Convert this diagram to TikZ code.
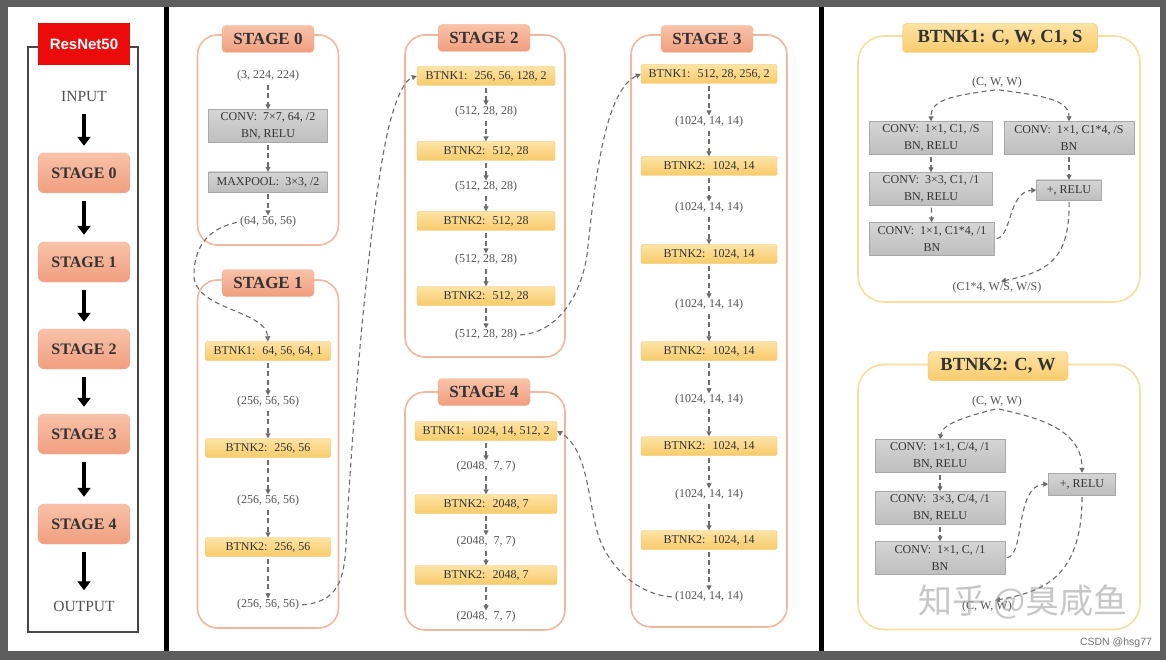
\documentclass[tikz,border=0pt]{standalone}
\usepackage{fontspec}
\setmainfont{Liberation Serif}
\newfontfamily\titlesans{Liberation Sans}
\newfontfamily\cjkmark{Noto Sans CJK SC}
\usetikzlibrary{arrows.meta,calc,positioning,shapes.geometric}
\definecolor{Screen}{HTML}{5E5E5E}
\definecolor{Ink}{HTML}{333333}
\definecolor{Soft}{HTML}{555555}
\definecolor{Dash}{HTML}{6C6C6C}
\definecolor{Salmon}{HTML}{F09E7E}
\definecolor{SalmonTop}{HTML}{F8C2A9}
\definecolor{SalmonLine}{HTML}{F1B79E}
\definecolor{Gold}{HTML}{F8CB6C}
\definecolor{GoldTop}{HTML}{FDE3A4}
\definecolor{GoldEdge}{HTML}{F1C46E}
\definecolor{GoldLine}{HTML}{F7DE9F}
\definecolor{Grey}{HTML}{BEBEBE}
\definecolor{GreyTop}{HTML}{D5D5D5}
\definecolor{GreyEdge}{HTML}{A9A9A9}
\definecolor{Red}{HTML}{EC0B0B}

\begin{document}
\begin{tikzpicture}[x=1pt,y=-1pt,
    txt/.style={font=\fontsize{12}{14}\selectfont,text=Soft,inner sep=1pt},
    bigtxt/.style={font=\fontsize{15.5}{16}\selectfont,text=Ink!85},
    ybox/.style={draw=GoldEdge,top color=GoldTop,bottom color=Gold,rounded corners=2pt,
      minimum height=19pt,inner sep=1pt,font=\fontsize{12}{14}\selectfont,text=Ink},
    gbox/.style={draw=GreyEdge,top color=GreyTop,bottom color=Grey,minimum height=33pt,
      inner sep=1pt,align=center,font=\fontsize{12}{16.5}\selectfont,text=Ink},
    leftstage/.style={top color=SalmonTop,bottom color=Salmon,draw=SalmonLine,rounded corners=6pt,
      minimum width=92pt,minimum height=40pt,font=\bfseries\fontsize{16}{16}\selectfont,text=Ink},
    stagetab/.style={top color=SalmonTop,bottom color=Salmon,draw=SalmonLine,rounded corners=4pt,
      minimum width=92pt,minimum height=27pt,font=\bfseries\fontsize{17}{17}\selectfont,text=Ink},
    stageframe/.style={draw=SalmonLine,line width=1.6pt,rounded corners=20pt,fill=white},
    btnkframe/.style={draw=GoldLine,line width=1.6pt,rounded corners=26pt,fill=white},
    btnktab/.style={top color=GoldTop,bottom color=Gold,draw=GoldEdge,rounded corners=4pt,
      minimum height=29pt,font=\bfseries\fontsize{18.5}{18.5}\selectfont,text=Ink},
    flow/.style={draw=Dash,line width=1.1pt,dash pattern=on 5pt off 3.5pt,shorten <=2pt,
      -{Triangle[length=5pt,width=5pt]}},
    bigarrow/.style={line width=4.5pt,shorten <=8pt,shorten >=7pt,-{Triangle[length=9pt,width=13pt]}},
    watermark/.style={font=\cjkmark\fontsize{34}{34}\selectfont,text=black!40,text opacity=0.55},
    credit/.style={font=\titlesans\fontsize{10.5}{11}\selectfont,text=black!55}]
  \useasboundingbox (0,0) rectangle (1166,660);
  % screen and panels
  \fill[Screen] (0,0) rectangle (1166,660);
  \fill[white] (8,7) rectangle (1160,651);
  \fill[black] (164,7) rectangle (169,651);
  \fill[black] (819,7) rectangle (824,651);

  % overview column
  \draw[line width=1.8pt,draw=Ink!90] (28,47) rectangle (138,632);
  \node[fill=Red,minimum width=92pt,minimum height=42pt,text=white,
    font=\titlesans\bfseries\fontsize{15}{15}\selectfont] (title) at (84,44) {ResNet50};
  \node[bigtxt] (input) at (84,97) {INPUT};
  \node[leftstage] (l0) at (84,173) {STAGE 0};
  \node[leftstage] (l1) at (84,262) {STAGE 1};
  \node[leftstage] (l2) at (84,349) {STAGE 2};
  \node[leftstage] (l3) at (84,434) {STAGE 3};
  \node[leftstage] (l4) at (84,524) {STAGE 4};
  \node[bigtxt] (output) at (84,606) {OUTPUT};
  \draw[bigarrow] (input) -- (l0);
  \draw[bigarrow] (l0) -- (l1);
  \draw[bigarrow] (l1) -- (l2);
  \draw[bigarrow] (l2) -- (l3);
  \draw[bigarrow] (l3) -- (l4);
  \draw[bigarrow] (l4) -- (output);

  % stage 0
  \node[stageframe,minimum width=141pt,minimum height=210pt] (f0) at (268,140) {};
  \node[stagetab] (h0) at (268,39) {STAGE 0};
  \node[txt] (s0t0) at (268,76) {(3, 224, 224)};
  \node[gbox,minimum width=119pt] (s0c) at (268,126) {CONV:~ 7×7, 64, /2\\BN, RELU};
  \node[gbox,minimum width=119pt,minimum height=20pt] (s0p) at (268,182) {MAXPOOL:~ 3×3, /2};
  \node[txt] (s0t1) at (268,222) {(64, 56, 56)};
  \draw[flow] (s0t0) -- (s0c);
  \draw[flow] (s0c) -- (s0p);
  \draw[flow] (s0p) -- (s0t1);

  % stage 1
  \node[stageframe,minimum width=141pt,minimum height=348pt] (f1) at (268,454) {};
  \node[stagetab] (h1) at (268,283) {STAGE 1};
  \node[ybox,minimum width=125pt] (s1b0) at (268,351) {BTNK1:~ 64, 56, 64, 1};
  \node[txt] (s1t0) at (268,402) {(256, 56, 56)};
  \node[ybox,minimum width=125pt] (s1b1) at (268,448) {BTNK2:~ 256, 56};
  \node[txt] (s1t1) at (268,501) {(256, 56, 56)};
  \node[ybox,minimum width=125pt] (s1b2) at (268,547) {BTNK2:~ 256, 56};
  \node[txt] (s1t2) at (268,605) {(256, 56, 56)};
  \draw[flow] (s1b0) -- (s1t0);
  \draw[flow] (s1t0) -- (s1b1);
  \draw[flow] (s1b1) -- (s1t1);
  \draw[flow] (s1t1) -- (s1b2);
  \draw[flow] (s1b2) -- (s1t2);

  % stage 2
  \node[stageframe,minimum width=160pt,minimum height=322pt] (f2) at (485,196) {};
  \node[stagetab] (h2) at (484,38) {STAGE 2};
  \node[ybox,minimum width=138pt] (s2b0) at (486,76) {BTNK1:~ 256, 56, 128, 2};
  \node[txt] (s2t0) at (486,112) {(512, 28, 28)};
  \node[ybox,minimum width=138pt] (s2b1) at (486,151) {BTNK2:~ 512, 28};
  \node[txt] (s2t1) at (486,187) {(512, 28, 28)};
  \node[ybox,minimum width=138pt] (s2b2) at (486,221) {BTNK2:~ 512, 28};
  \node[txt] (s2t2) at (486,260) {(512, 28, 28)};
  \node[ybox,minimum width=138pt] (s2b3) at (486,296) {BTNK2:~ 512, 28};
  \node[txt] (s2t3) at (486,335) {(512, 28, 28)};
  \draw[flow] (s2b0) -- (s2t0);
  \draw[flow] (s2t0) -- (s2b1);
  \draw[flow] (s2b1) -- (s2t1);
  \draw[flow] (s2t1) -- (s2b2);
  \draw[flow] (s2b2) -- (s2t2);
  \draw[flow] (s2t2) -- (s2b3);
  \draw[flow] (s2b3) -- (s2t3);

  % stage 4
  \node[stageframe,minimum width=160pt,minimum height=238pt] (f4) at (485,511) {};
  \node[stagetab] (h4) at (484,392) {STAGE 4};
  \node[ybox,minimum width=142pt] (s4b0) at (486,431) {BTNK1:~ 1024, 14, 512, 2};
  \node[txt] (s4t0) at (486,467) {(2048,~ 7, 7)};
  \node[ybox,minimum width=142pt] (s4b1) at (486,504) {BTNK2:~ 2048, 7};
  \node[txt] (s4t1) at (486,542) {(2048,~ 7, 7)};
  \node[ybox,minimum width=142pt] (s4b2) at (486,575) {BTNK2:~ 2048, 7};
  \node[txt] (s4t2) at (486,617) {(2048,~ 7, 7)};
  \draw[flow] (s4b0) -- (s4t0);
  \draw[flow] (s4t0) -- (s4b1);
  \draw[flow] (s4b1) -- (s4t1);
  \draw[flow] (s4t1) -- (s4b2);
  \draw[flow] (s4b2) -- (s4t2);

  % stage 3
  \node[stageframe,minimum width=156pt,minimum height=592pt] (f3) at (709,331) {};
  \node[stagetab] (h3) at (707,39) {STAGE 3};
  \node[ybox,minimum width=136pt] (s3b0) at (709,74) {BTNK1:~ 512, 28, 256, 2};
  \node[txt] (s3t0) at (709,122) {(1024, 14, 14)};
  \node[ybox,minimum width=136pt] (s3b1) at (709,166) {BTNK2:~ 1024, 14};
  \node[txt] (s3t1) at (709,208) {(1024, 14, 14)};
  \node[ybox,minimum width=136pt] (s3b2) at (709,254) {BTNK2:~ 1024, 14};
  \node[txt] (s3t2) at (709,305) {(1024, 14, 14)};
  \node[ybox,minimum width=136pt] (s3b3) at (709,351) {BTNK2:~ 1024, 14};
  \node[txt] (s3t3) at (709,400) {(1024, 14, 14)};
  \node[ybox,minimum width=136pt] (s3b4) at (709,446) {BTNK2:~ 1024, 14};
  \node[txt] (s3t4) at (709,495) {(1024, 14, 14)};
  \node[ybox,minimum width=136pt] (s3b5) at (709,540) {BTNK2:~ 1024, 14};
  \node[txt] (s3t5) at (709,597) {(1024, 14, 14)};
  \draw[flow] (s3b0) -- (s3t0);
  \draw[flow] (s3t0) -- (s3b1);
  \draw[flow] (s3b1) -- (s3t1);
  \draw[flow] (s3t1) -- (s3b2);
  \draw[flow] (s3b2) -- (s3t2);
  \draw[flow] (s3t2) -- (s3b3);
  \draw[flow] (s3b3) -- (s3t3);
  \draw[flow] (s3t3) -- (s3b4);
  \draw[flow] (s3b4) -- (s3t4);
  \draw[flow] (s3t4) -- (s3b5);
  \draw[flow] (s3b5) -- (s3t5);

  % links between stages
  \draw[flow] (s0t1.west) .. controls (210,228) and (194,245) .. (194,275)
    .. controls (194,310) and (266,310) .. (s1b0.north);
  \draw[flow] (s1t2.east) .. controls (338,602) and (344,580) .. (346,545)
    .. controls (352,420) and (372,180) .. (392,115)
    .. controls (398,95) and (405,80) .. (s2b0.west);
  \draw[flow] (s2t3.east) .. controls (555,333) and (580,300) .. (587,255)
    .. controls (595,180) and (605,90) .. (s3b0.west);
  \draw[flow] (s3t5.west) .. controls (640,595) and (612,570) .. (600,540)
    .. controls (588,510) and (590,450) .. (s4b0.east);

  % BTNK1 block
  \node[btnkframe,minimum width=282pt,minimum height=266pt] (k1f) at (999,169) {};
  \node[btnktab,minimum width=195pt] (k1) at (1000,38) {BTNK1: C, W, C1, S};
  \node[txt] (cin1) at (997,83) {(C, W, W)};
  \node[gbox,minimum width=123pt] (b1c1) at (931,138) {CONV:~ 1×1, C1, /S\\BN, RELU};
  \node[gbox,minimum width=123pt] (b1c2) at (931,189) {CONV:~ 3×3, C1, /1\\BN, RELU};
  \node[gbox,minimum width=125pt] (b1c3) at (932,239) {CONV:~ 1×1, C1*4, /1\\BN};
  \node[gbox,minimum width=130pt] (b1r) at (1069,138) {CONV:~ 1×1, C1*4, /S\\BN};
  \node[gbox,minimum width=65pt,minimum height=20pt] (add1) at (1069,190) {+, RELU};
  \node[txt] (cout1) at (997,288) {(C1*4, W/S, W/S)};
  \draw[flow] (cin1.south) .. controls (950,96) and (931,100) .. (b1c1.north);
  \draw[flow] (cin1.south) .. controls (1045,96) and (1069,100) .. (b1r.north);
  \draw[flow] (b1c1) -- (b1c2);
  \draw[flow] (b1c2) -- (b1c3);
  \draw[flow] (b1r) -- (add1);
  \draw[flow] (b1c3.east) .. controls (1012,236) and (1008,192) .. (add1.west);
  \draw[flow] (add1.south) .. controls (1070,262) and (1045,272) .. ([xshift=4pt]cout1.north);

  % BTNK2 block
  \node[btnkframe,minimum width=282pt,minimum height=265pt] (k2f) at (999,497) {};
  \node[btnktab,minimum width=140pt] (k2) at (998,366) {BTNK2: C, W};
  \node[txt] (cin2) at (997,402) {(C, W, W)};
  \node[gbox,minimum width=130pt] (b2c1) at (940,456) {CONV:~ 1×1, C/4, /1\\BN, RELU};
  \node[gbox,minimum width=130pt] (b2c2) at (940,508) {CONV:~ 3×3, C/4, /1\\BN, RELU};
  \node[gbox,minimum width=130pt] (b2c3) at (940,558) {CONV:~ 1×1, C, /1\\BN};
  \node[gbox,minimum width=67pt,minimum height=22pt] (add2) at (1082,484) {+, RELU};
  \node[txt] (cout2) at (987,607) {(C, W, W)};
  \draw[flow] (cin2.south) .. controls (960,418) and (942,425) .. (b2c1.north);
  \draw[flow] (cin2.south) .. controls (1040,418) and (1082,430) .. (add2.north);
  \draw[flow] (b2c1) -- (b2c2);
  \draw[flow] (b2c2) -- (b2c3);
  \draw[flow] (b2c3.east) .. controls (1025,555) and (1015,486) .. (add2.west);
  \draw[flow] (add2.south) .. controls (1082,580) and (1040,592) .. ([xshift=8pt]cout2.north);

  % marks
  \node[watermark] (wm) at (1023,602) {知乎 @臭咸鱼};
  \node[credit] (csdn) at (1116,643) {CSDN @hsg77};
\end{tikzpicture}
\end{document}
